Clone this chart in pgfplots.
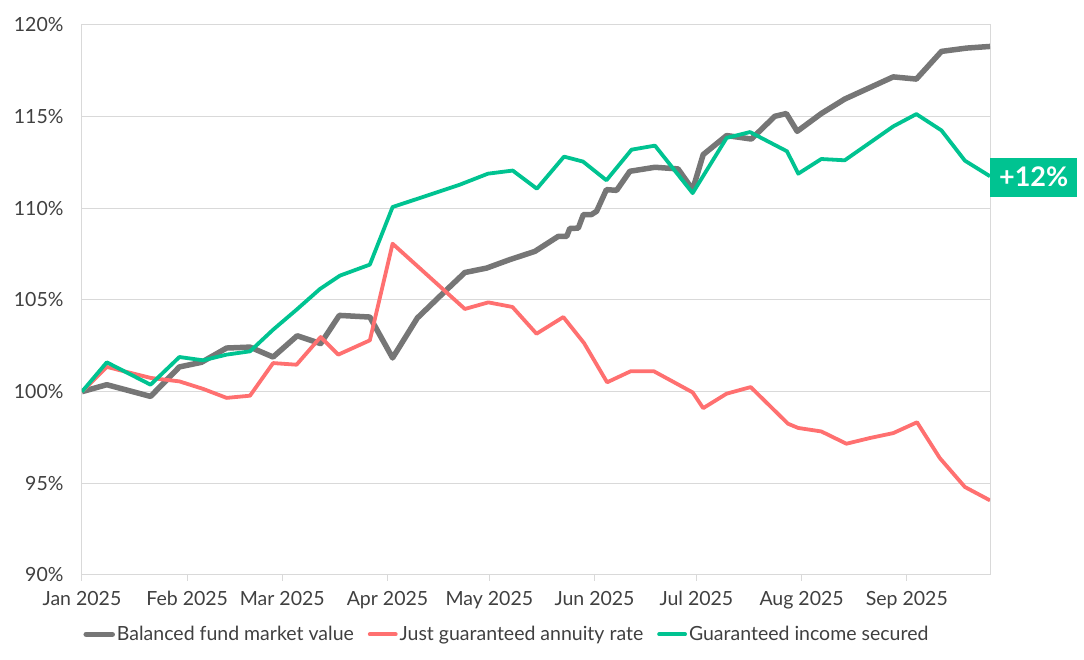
\documentclass[border=0pt]{standalone}
\usepackage{fontspec}
\setmainfont{Lato}
\usepackage{pgfplots}
\pgfplotsset{compat=1.18}

\definecolor{fundgrey}{HTML}{767676}
\definecolor{annred}{HTML}{FF7070}
\definecolor{incgreen}{HTML}{00C391}
\definecolor{gridgrey}{HTML}{D9D9D9}
\definecolor{labelgrey}{HTML}{404040}

\begin{document}
\begin{tikzpicture}
\begin{axis}[
  scale only axis,
  width=908pt, height=550pt,
  xmin=0, xmax=267.5,
  ymin=90, ymax=120,
  axis line style={draw=gridgrey, line width=1pt},
  ymajorgrids, grid style={gridgrey, line width=1pt},
  ytick={90,95,100,105,110,115,120},
  yticklabels={90\%,95\%,100\%,105\%,110\%,115\%,120\%},
  xtick={0,31,59,90,120,151,181,212,243},
  xticklabels={Jan 2025,Feb 2025,Mar 2025,Apr 2025,May 2025,Jun 2025,Jul 2025,Aug 2025,Sep 2025},
  xtick pos=bottom, tick align=outside,
  major tick length=6pt,
  xtick style={gridgrey, line width=1pt},
  ytick style={draw=none},
  tick label style={font=\fontsize{19.5}{23}\selectfont, text=labelgrey},
  yticklabel style={xshift=-9pt},
  xticklabel style={yshift=-7pt},
  legend columns=3,
  legend style={draw=none, at={(axis description cs:0.468,-0.108)}, anchor=center,
    font=\fontsize{19.5}{23}\selectfont, text=labelgrey,
    /tikz/every even column/.append style={column sep=12pt}},
  legend image code/.code={\draw[#1, line cap=round] (0pt,0pt) -- (26pt,0pt);},
  every axis plot/.append style={line join=round},
]
\addplot[fundgrey, line width=5.5pt] coordinates {
(0,100) (7.3,100.38) (20.2,99.74) (28.7,101.35) (35.2,101.6) (42.6,102.38)
(49.5,102.43) (56.3,101.89) (63.4,103.05) (70.3,102.62) (75.8,104.16) (84.8,104.07)
(91.5,101.84) (98.8,104.02) (105.4,105.2) (112.8,106.5) (119.2,106.74) (126,107.2)
(133.4,107.65) (140.3,108.47) (142.8,108.47) (143.7,108.9) (146.2,108.92) (147.7,109.66)
(150.1,109.66) (151.6,109.84) (154.5,111.02) (157.5,110.98) (161.4,112.02) (168.8,112.24)
(175.6,112.15) (179.9,111.02) (183,112.93) (189.9,113.97) (197.2,113.78) (204.1,115.02)
(207.5,115.17) (210.7,114.2) (217.8,115.17) (224.7,115.96) (239,117.17) (245.8,117.05)
(253.2,118.56) (260.6,118.74) (267.5,118.83)
};
\addlegendentry{Balanced fund market value}
\addplot[annred, line width=3.8pt] coordinates {
(0,100) (7.3,101.35) (20.2,100.75) (28.7,100.56) (35.7,100.15) (42.6,99.66)
(49.5,99.78) (56.3,101.56) (63.2,101.47) (70.3,102.98) (75.5,102.02) (84.8,102.8)
(91.5,108.07) (112.8,104.51) (119.7,104.87) (126.8,104.62) (133.9,103.16) (141.8,104.07)
(147.9,102.65) (154.7,100.51) (161.6,101.11) (168.5,101.11) (179.9,99.96) (183,99.1)
(189.9,99.89) (197,100.25) (208,98.25) (211,98.02) (217.8,97.83) (225.2,97.16)
(232.1,97.47) (239,97.74) (246,98.33) (252.7,96.38) (260.1,94.8) (267.5,94.07)
};
\addlegendentry{Just guaranteed annuity rate}
\addplot[incgreen, line width=3.8pt] coordinates {
(0,100) (7.3,101.6) (20.2,100.38) (28.7,101.89) (35.7,101.71) (42.6,102.02)
(49.5,102.2) (56.3,103.38) (63.2,104.47) (70.1,105.6) (76,106.33) (84.8,106.93)
(91.5,110.07) (111.3,111.29) (119.6,111.89) (126.9,112.06) (134,111.07) (142,112.82)
(147.6,112.55) (154.5,111.53) (161.9,113.2) (168.8,113.42) (179.9,110.83) (189.9,113.84)
(196.8,114.16) (207.7,113.11) (211,111.89) (217.8,112.69) (224.7,112.62) (239,114.47)
(245.8,115.14) (253.2,114.25) (260.1,112.6) (267.5,111.75)
};
\addlegendentry{Guaranteed income secured}
\coordinate (gend) at (axis cs:267.5,111.7);
\end{axis}
\node[fill=incgreen, text=white, anchor=west, inner sep=0pt,
  minimum width=87pt, minimum height=39pt,
  font=\bfseries\fontsize{27}{30}\selectfont] at (gend) {+12\%};
\path[use as bounding box] (-82pt,-85pt) rectangle (1002pt,575pt);
\end{tikzpicture}
\end{document}
